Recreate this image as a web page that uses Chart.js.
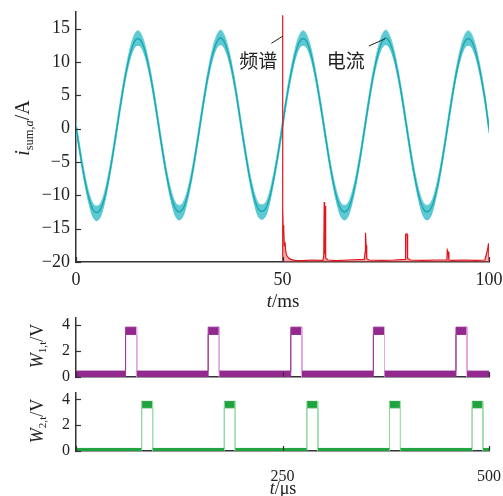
<!DOCTYPE html>
<html>
<head>
<meta charset="utf-8">
<script src="https://cdn.jsdelivr.net/npm/chart.js@4/dist/chart.umd.min.js"></script>
<style>
html,body{margin:0;padding:0;background:#fff;}
body{width:503px;height:496px;position:relative;overflow:hidden;font-family:"Liberation Serif",serif;color:#222;}
canvas{position:absolute;left:0;}
.t{position:absolute;white-space:nowrap;font-family:"Liberation Serif",serif;color:#222;line-height:1;}
.rot{transform:translate(-50%,-50%) rotate(-90deg);}
.ctr{transform:translate(-50%,-50%);}
sub{font-size:62%;vertical-align:-0.3em;line-height:0;}
</style>
</head>
<body>
<canvas id="c1" width="503" height="300" style="top:0"></canvas>
<canvas id="c2" width="503" height="85" style="top:300px"></canvas>
<canvas id="c3" width="503" height="121" style="top:375px"></canvas>

<div class="t rot" style="left:22px;top:128px;font-size:20px;"><i>i</i><sub>sum,<i>a</i></sub>/A</div>
<div class="t ctr" style="left:283px;top:300px;font-size:19px;"><i>t</i>/ms</div>
<div class="t rot" style="left:37px;top:346px;font-size:18px;"><i>W</i><sub>1,t</sub>/V</div>
<div class="t rot" style="left:37px;top:421px;font-size:18px;"><i>W</i><sub>2,t</sub>/V</div>
<div class="t ctr" style="left:283px;top:488px;font-size:18px;"><i>t</i>/μs</div>

<script>
// ---------- data: top panel (current, time in ms) ----------
const tI = [0,1,2,3,4,5,6,7,8,9,10,11,12,13,14,15,16,17,18,19,
  20,21,22,23,24,25,26,27,28,29,30,31,32,33,34,35,36,37,38,39,
  40,41,42,43,44,45,46,47,48,49,50,51,52,53,54,55,56,57,58,59,
  60,61,62,63,64,65,66,67,68,69,70,71,72,73,74,75,76,77,78,79,
  80,81,82,83,84,85,86,87,88,89,90,91,92,93,94,95,96,97,98,99,100];
const iCenter = [0.3,-3.6,-7.2,-10.1,-12.0,-12.6,-12.0,-10.1,-7.1,-3.5,0.5,4.5,8.1,11.0,12.9,13.5,12.9,11.0,8.1,4.5,
  0.5,-3.5,-7.1,-10.0,-11.9,-12.5,-11.9,-10.0,-7.1,-3.5,0.5,4.5,8.1,11.0,12.9,13.6,12.9,11.0,8.1,4.5,
  0.4,-3.5,-7.1,-10.0,-11.9,-12.4,-11.9,-10.0,-7.0,-3.5,0.5,4.6,8.1,11.0,12.9,13.5,12.9,11.0,8.0,4.4,
  0.5,-3.5,-7.1,-10.0,-11.9,-12.5,-11.9,-10.0,-7.1,-3.5,0.5,4.5,8.1,11.0,12.9,13.6,12.9,11.0,8.1,4.5,
  0.5,-3.5,-7.1,-10.0,-11.9,-12.5,-11.9,-10.0,-7.1,-3.5,0.5,4.5,8.1,11.0,12.9,13.5,12.9,11.0,8.1,4.5,0.0];
const iUpper = [1.0,-2.9,-6.5,-9.3,-11.1,-11.6,-11.1,-9.3,-6.4,-2.8,1.2,5.2,8.8,11.8,13.9,14.7,13.9,11.8,8.8,5.2,
  1.2,-2.8,-6.4,-9.2,-11.0,-11.5,-11.0,-9.2,-6.4,-2.8,1.2,5.2,8.8,11.8,13.9,14.8,13.9,11.8,8.8,5.2,
  1.1,-2.8,-6.4,-9.2,-11.0,-11.4,-11.0,-9.2,-6.3,-2.8,1.2,5.3,8.8,11.8,13.9,14.7,13.9,11.8,8.7,5.1,
  1.2,-2.8,-6.4,-9.2,-11.0,-11.5,-11.0,-9.2,-6.4,-2.8,1.2,5.2,8.8,11.8,13.9,14.8,13.9,11.8,8.8,5.2,
  1.2,-2.8,-6.4,-9.2,-11.0,-11.5,-11.0,-9.2,-6.4,-2.8,1.2,5.2,8.8,11.8,13.9,14.7,13.9,11.8,8.8,5.2,0.7];
const iLower = [-0.4,-4.3,-7.9,-10.9,-13.1,-13.8,-13.1,-10.9,-7.8,-4.2,-0.2,3.8,7.4,10.2,12.0,12.5,12.0,10.2,7.4,3.8,
  -0.2,-4.2,-7.8,-10.8,-13.0,-13.7,-13.0,-10.8,-7.8,-4.2,-0.2,3.8,7.4,10.2,12.0,12.6,12.0,10.2,7.4,3.8,
  -0.3,-4.2,-7.8,-10.8,-13.0,-13.6,-13.0,-10.8,-7.7,-4.2,-0.2,3.9,7.4,10.2,12.0,12.5,12.0,10.2,7.3,3.7,
  -0.2,-4.2,-7.8,-10.8,-13.0,-13.7,-13.0,-10.8,-7.8,-4.2,-0.2,3.8,7.4,10.2,12.0,12.6,12.0,10.2,7.4,3.8,
  -0.2,-4.2,-7.8,-10.8,-13.0,-13.7,-13.0,-10.8,-7.8,-4.2,-0.2,3.8,7.4,10.2,12.0,12.5,12.0,10.2,7.4,3.8,-0.7];

// spectrum overlay (drawn on the same axes, 50..100)
const specX = [50.0,50.02,50.08,50.15,50.3,50.45,50.6,50.8,51.0,51.5,52,53,55,57,59.8,60.0,60.1,60.2,60.3,60.4,60.5,61,63,66,69.8,70.0,70.1,70.25,70.4,71,74,77,79.7,79.8,80.2,80.3,81,84,87,89.8,89.9,90.1,90.3,91,94,97,99.0,99.5,99.7,99.9,100];
const specY = [-19.8,17.0,-12.0,-14.5,-15.2,-17.6,-17.0,-18.5,-19.0,-19.4,-19.6,-19.75,-19.8,-19.7,-19.75,-19.0,-11.0,-18.8,-11.6,-19.0,-19.4,-19.7,-19.8,-19.7,-19.6,-18.5,-15.6,-17.5,-19.5,-19.7,-19.75,-19.7,-19.6,-15.8,-15.8,-19.5,-19.7,-19.75,-19.7,-19.7,-18.2,-18.5,-19.7,-19.75,-19.7,-19.75,-19.7,-18.5,-17.9,-17.2,-19.8];

const topXTicks = [0,50,100];
const topYTicks = [-20,-15,-10,-5,0,5,10,15];
const notes = [
  {text:'频谱', tx:44.1, ty:10.2, x1:47.3, y1:12.8, x2:50.1, y2:13.9},
  {text:'电流', tx:65.3, ty:10.2, x1:70.9, y1:12.4, x2:74.9, y2:13.5}
];

// ---------- data: bottom panels (gate signals, time in µs) ----------
const w1T  = [0,60,60,73.5,73.5,160,160,173.5,173.5,260,260,273.5,273.5,360,360,373.5,373.5,460,460,473.5,473.5,500];
const w1Hi = [0.45,0.45,3.8,3.8,0.45,0.45,3.8,3.8,0.45,0.45,3.8,3.8,0.45,0.45,3.8,3.8,0.45,0.45,3.8,3.8,0.45,0.45];
const w1Lo = [0,0,3.25,3.25,0,0,3.25,3.25,0,0,3.25,3.25,0,0,3.25,3.25,0,0,3.25,3.25,0,0];
const w2T  = [0,79.5,79.5,92.8,92.8,179.5,179.5,192.8,192.8,279.5,279.5,292.8,292.8,379.5,379.5,392.8,392.8,479.5,479.5,492.8,492.8,500];
const w2Hi = [0.2,0.2,3.85,3.85,0.2,0.2,3.85,3.85,0.2,0.2,3.85,3.85,0.2,0.2,3.85,3.85,0.2,0.2,3.85,3.85,0.2,0.2];
const w2Lo = [0,0,3.35,3.35,0,0,3.35,3.35,0,0,3.35,3.35,0,0,3.35,3.35,0,0,3.35,3.35,0,0];
const botXTicks = [0,250,500];
const botXLabels = ['','250','500'];
const botYTicks = [0,2,4];

// ---------- helpers ----------
const SERIF = '"Liberation Serif", "Times New Roman", serif';
const AX = '#333';
const pts = (xs, ys) => xs.map((x,i)=>({x:x, y:ys[i]}));
const noPad = s => { s.paddingLeft = 0; s.paddingRight = 0; s.paddingTop = 0; s.paddingBottom = 0; };

const innerTicks = {
  id:'innerTicks',
  afterDraw(chart){
    const ctx = chart.ctx, a = chart.chartArea, xs = chart.scales.x, ys = chart.scales.y;
    ctx.save(); ctx.strokeStyle = AX; ctx.lineWidth = 1.2;
    ys.ticks.forEach(t=>{ const p = Math.round(ys.getPixelForValue(t.value))+0.5;
      ctx.beginPath(); ctx.moveTo(a.left, p); ctx.lineTo(a.left+5, p); ctx.stroke(); });
    xs.ticks.forEach(t=>{ const p = Math.round(xs.getPixelForValue(t.value))+0.5;
      ctx.beginPath(); ctx.moveTo(p, a.bottom); ctx.lineTo(p, a.bottom-5); ctx.stroke(); });
    ctx.restore();
  }
};
const notesPlugin = {
  id:'notes',
  afterDatasetsDraw(chart){
    const ctx = chart.ctx, xs = chart.scales.x, ys = chart.scales.y;
    ctx.save();
    notes.forEach(n=>{
      ctx.strokeStyle = '#222'; ctx.lineWidth = 1;
      ctx.beginPath(); ctx.moveTo(xs.getPixelForValue(n.x1), ys.getPixelForValue(n.y1));
      ctx.lineTo(xs.getPixelForValue(n.x2), ys.getPixelForValue(n.y2)); ctx.stroke();
      ctx.fillStyle = '#222'; ctx.font = '19px "Noto Sans CJK SC", sans-serif';
      ctx.textAlign = 'center'; ctx.textBaseline = 'middle';
      ctx.fillText(n.text, xs.getPixelForValue(n.tx), ys.getPixelForValue(n.ty));
    });
    ctx.restore();
  }
};

function axisX(min, max, ticks, labels, size, fontSize, pad, show){
  return {type:'linear', min:min, max:max,
    afterBuildTicks: s => { s.ticks = ticks.map(v=>({value:v})); },
    afterFit: s => { s.height = size; noPad(s); },
    grid:{display:true, drawOnChartArea:false, drawTicks:false},
    border:{display:true, color:AX, width:1.5},
    ticks:{display:show, autoSkip:false, maxRotation:0, padding:pad, color:'#222',
      font:{family:SERIF, size:fontSize},
      callback: (v) => { const i = ticks.indexOf(v); return labels ? labels[i] : String(v); }}};
}
function axisY(min, max, ticks, width, fontSize){
  return {type:'linear', min:min, max:max,
    afterBuildTicks: s => { s.ticks = ticks.map(v=>({value:v})); },
    afterFit: s => { s.width = width; noPad(s); },
    grid:{display:true, drawOnChartArea:false, drawTicks:false},
    border:{display:true, color:AX, width:1.5},
    ticks:{autoSkip:false, padding:6, color:'#222', font:{family:SERIF, size:fontSize},
      callback: v => String(v).replace('-', '\u2212')}};
}
const base = {responsive:false, animation:false, devicePixelRatio:1,
  plugins:{legend:{display:false}, tooltip:{enabled:false}},
  elements:{point:{radius:0}}};

// ---------- top chart ----------
new Chart(document.getElementById('c1'), {
  type:'line',
  data:{datasets:[
    {data:pts(specX, specY), order:0, borderColor:'#e3141c', borderWidth:1.2, tension:0,
      fill:{value:-20}, backgroundColor:'rgba(236,70,70,0.45)'},
    {data:pts(tI, iCenter), order:1, borderColor:'#19a6b1', borderWidth:1.3, cubicInterpolationMode:'monotone', fill:false},
    {data:pts(tI, iUpper), order:2, borderColor:'#6fd2d8', borderWidth:1, cubicInterpolationMode:'monotone',
      fill:'+1', backgroundColor:'rgba(48,186,197,0.78)'},
    {data:pts(tI, iLower), order:3, borderColor:'#6fd2d8', borderWidth:1, cubicInterpolationMode:'monotone', fill:false}
  ]},
  options:Object.assign({}, base, {
    layout:{padding:{left:0, right:14, top:12, bottom:0}},
    scales:{ x: axisX(0, 100, topXTicks, null, 38, 18, 7, true),
             y: axisY(-20, 17.5, topYTicks, 76, 18) }
  }),
  plugins:[innerTicks, notesPlugin]
});

// ---------- bottom charts ----------
function pulseChart(id, T, Hi, Lo, band, edgeUp, edgeDown, xLabels, xSize, padTop){
  const seg = ctx => (ctx.p0.parsed.x === ctx.p1.parsed.x) ?
      (ctx.p1.parsed.y > ctx.p0.parsed.y ? edgeUp : edgeDown) : undefined;
  new Chart(document.getElementById(id), {
    type:'line',
    data:{datasets:[
      {data:pts(T, Hi), borderColor:band, borderWidth:1, tension:0, fill:'+1', backgroundColor:band,
        segment:{borderColor: seg}},
      {data:pts(T, Lo), borderColor:band, borderWidth:1, tension:0, fill:false,
        segment:{borderColor: seg}}
    ]},
    options:Object.assign({}, base, {
      layout:{padding:{left:0, right:14, top:padTop, bottom:0}},
      scales:{ x: axisX(0, 500, botXTicks, xLabels, xSize, 16, 16, !!xLabels),
               y: axisY(0, 4.5, botYTicks, 76, 16) }
    }),
    plugins:[innerTicks]
  });
}
pulseChart('c2', w1T, w1Hi, w1Lo, '#93288f', '#9a3a98', '#e3a6e0', null, 8, 18);
pulseChart('c3', w2T, w2Hi, w2Lo, '#1ea33e', '#8fd49c', '#a6deb0', botXLabels, 45, 18);
</script>
</body>
</html>
